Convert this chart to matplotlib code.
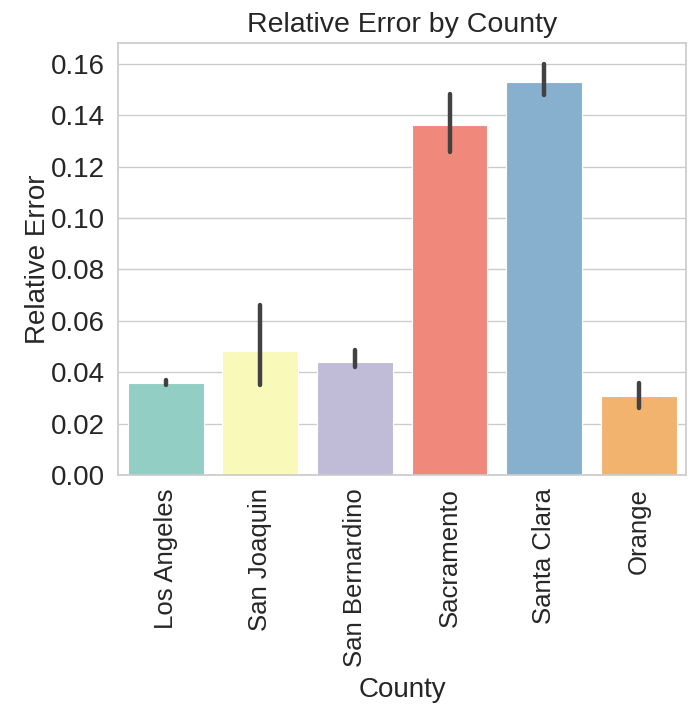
import numpy as np
import matplotlib as mpl
mpl.use('Agg')
import matplotlib.pyplot as plt
import seaborn as sns

counties = ['Los Angeles', 'San Joaquin', 'San Bernardino',
            'Sacramento', 'Santa Clara', 'Orange']
rel_error = [0.0358, 0.0483, 0.0440, 0.1362, 0.1530, 0.0307]
ci_low = [0.0350, 0.0350, 0.0420, 0.1257, 0.1480, 0.0262]
ci_high = [0.0370, 0.0660, 0.0487, 0.1483, 0.1600, 0.0358]

sns.set_theme(style='whitegrid')
plt.rcParams['font.family'] = ['Arial', 'Liberation Sans', 'DejaVu Sans']

fig, ax = plt.subplots(figsize=(6.96, 7.1), dpi=100)
fig.subplots_adjust(left=0.17, right=0.986, top=0.939, bottom=0.331)

colors = [sns.desaturate(c, 0.85) for c in sns.color_palette('Set3', len(counties))]
x = np.arange(len(counties))
ax.bar(x, rel_error, width=0.8, color=colors, edgecolor='white', linewidth=0.8)
ax.vlines(x, ci_low, ci_high, color='#424242', linewidth=3.2, capstyle='round')

ax.set_xlim(-0.5, len(counties) - 0.5)
ax.set_ylim(0, 0.168)
ax.set_yticks(np.arange(0, 0.161, 0.02))
ax.yaxis.set_major_formatter(mpl.ticker.FormatStrFormatter('%.2f'))
ax.set_xticks(x)
ax.set_xticklabels(counties, rotation=90)
ax.tick_params(axis='y', labelsize=20)
ax.tick_params(axis='x', labelsize=18.5)
ax.grid(axis='x', visible=False)
ax.set_axisbelow(True)

ax.set_xlabel('County', fontsize=20, labelpad=7)
ax.set_ylabel('Relative Error', fontsize=20, labelpad=0)
ax.set_title('Relative Error by County', fontsize=20.5, pad=8)

plt.savefig('out.png', dpi=100)
